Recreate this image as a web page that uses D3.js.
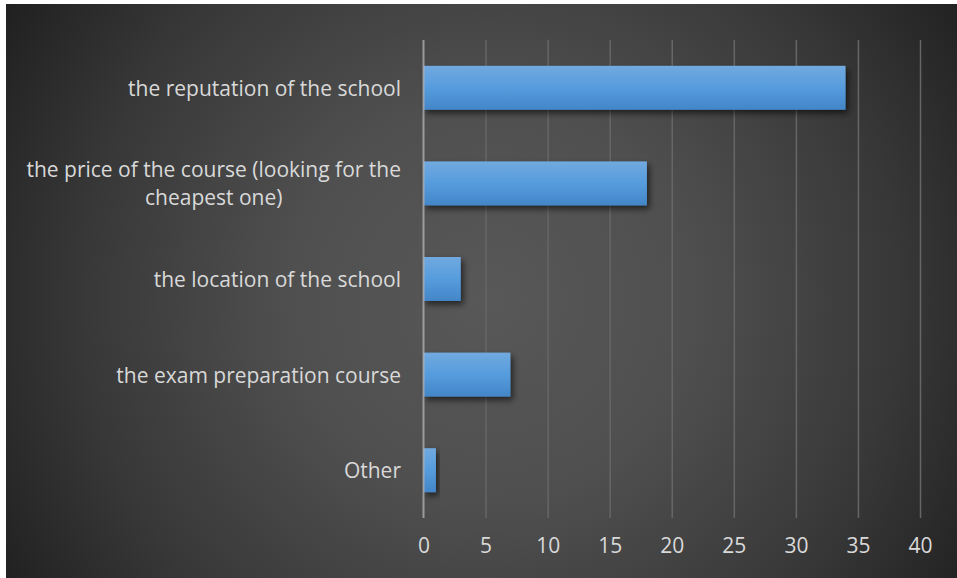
<!DOCTYPE html>
<html>
<head>
<meta charset="utf-8">
<script src="https://cdn.jsdelivr.net/npm/d3@7"></script>
<style>
  html, body { margin: 0; padding: 0; background: #ffffff; }
  svg { display: block; }
</style>
</head>
<body>
<svg id="chart" width="957" height="578"></svg>
<script>
// Survey answers: what matters most when choosing a school
const categories = [
  "the reputation of the school",
  "the price of the course (looking for the cheapest one)",
  "the location of the school",
  "the exam preparation course",
  "Other"
];
const categoryLines = [
  ["the reputation of the school"],
  ["the price of the course (looking for the", "cheapest one)"],
  ["the location of the school"],
  ["the exam preparation course"],
  ["Other"]
];
const counts = [34, 18, 3, 7, 1];
const xTicks = [0, 5, 10, 15, 20, 25, 30, 35, 40];

const W = 957, H = 578;
const plot = { left: 423.5, right: 920, top: 40, bottom: 518 };
const FONT = "'Open Sans', Lato, sans-serif";
const TEXT = "#d9d9d9";

const svg = d3.select("#chart");
const defs = svg.append("defs");

// dark radial backdrop
const bg = defs.append("radialGradient")
  .attr("id", "bgGrad")
  .attr("gradientUnits", "userSpaceOnUse")
  .attr("cx", 490).attr("cy", 300).attr("r", 580);
bg.append("stop").attr("offset", 0).attr("stop-color", "#585858");
bg.append("stop").attr("offset", 0.35).attr("stop-color", "#4f4f4f");
bg.append("stop").attr("offset", 0.7).attr("stop-color", "#383838");
bg.append("stop").attr("offset", 1).attr("stop-color", "#1e1e1e");

// bar fill: light blue on top, deeper blue at the bottom
const barGrad = defs.append("linearGradient")
  .attr("id", "barGrad").attr("x1", 0).attr("y1", 0).attr("x2", 0).attr("y2", 1);
barGrad.append("stop").attr("offset", 0).attr("stop-color", "#71a9df");
barGrad.append("stop").attr("offset", 0.5).attr("stop-color", "#569cdd");
barGrad.append("stop").attr("offset", 1).attr("stop-color", "#4386c8");

const shadow = defs.append("filter").attr("id", "barShadow")
  .attr("x", "-20%").attr("y", "-30%").attr("width", "150%").attr("height", "180%");
shadow.append("feDropShadow")
  .attr("dx", 2.5).attr("dy", 3.5).attr("stdDeviation", 3)
  .attr("flood-color", "#000").attr("flood-opacity", 0.6);

svg.append("rect")
  .attr("x", 6).attr("y", 4).attr("width", W - 6).attr("height", H - 4)
  .attr("fill", "url(#bgGrad)");

const x = d3.scaleLinear().domain([0, 40]).range([plot.left, plot.right]);
const y = d3.scaleBand().domain(categories)
  .range([plot.top, plot.bottom])
  .paddingInner(0.54).paddingOuter(0.27);

// vertical gridlines
const xAxis = d3.axisBottom(x).tickValues(xTicks).tickSize(-(plot.bottom - plot.top)).tickPadding(20);
const gx = svg.append("g")
  .attr("transform", `translate(0,${plot.bottom})`)
  .call(xAxis);
gx.select(".domain").remove();
gx.selectAll(".tick line")
  .attr("stroke", "#666666").attr("stroke-width", 1.5)
  .attr("stroke-opacity", d => d === 0 ? 0 : 1);
gx.selectAll(".tick text")
  .attr("fill", TEXT)
  .style("font-family", FONT)
  .style("font-size", "21px");

// bars
svg.append("g").selectAll("rect")
  .data(counts)
  .join("rect")
  .attr("x", x(0))
  .attr("y", (d, i) => y(categories[i]))
  .attr("width", d => x(d) - x(0))
  .attr("height", y.bandwidth())
  .attr("fill", "url(#barGrad)")
  .attr("filter", "url(#barShadow)");

// zero axis line, drawn over the bars
svg.append("line")
  .attr("x1", x(0)).attr("x2", x(0))
  .attr("y1", plot.top).attr("y2", plot.bottom)
  .attr("stroke", "#b4b4b4").attr("stroke-width", 2).attr("stroke-opacity", 0.75);

// category labels, right-aligned block with centred wrapped lines
const labelRight = 401;
const lineH = 28;
const labelG = svg.append("g")
  .style("font-family", FONT)
  .style("font-size", "21px")
  .attr("fill", TEXT);

categoryLines.forEach((lines, i) => {
  const cy = y(categories[i]) + y.bandwidth() / 2;
  const t = labelG.append("text")
    .attr("text-anchor", "middle")
    .attr("dominant-baseline", "central");
  const spans = lines.map((ln, k) =>
    t.append("tspan")
      .attr("y", cy + (k - (lines.length - 1) / 2) * lineH)
      .text(ln));
  const widest = d3.max(spans, s => s.node().getComputedTextLength());
  spans.forEach(s => s.attr("x", labelRight - widest / 2));
});
</script>
</body>
</html>
